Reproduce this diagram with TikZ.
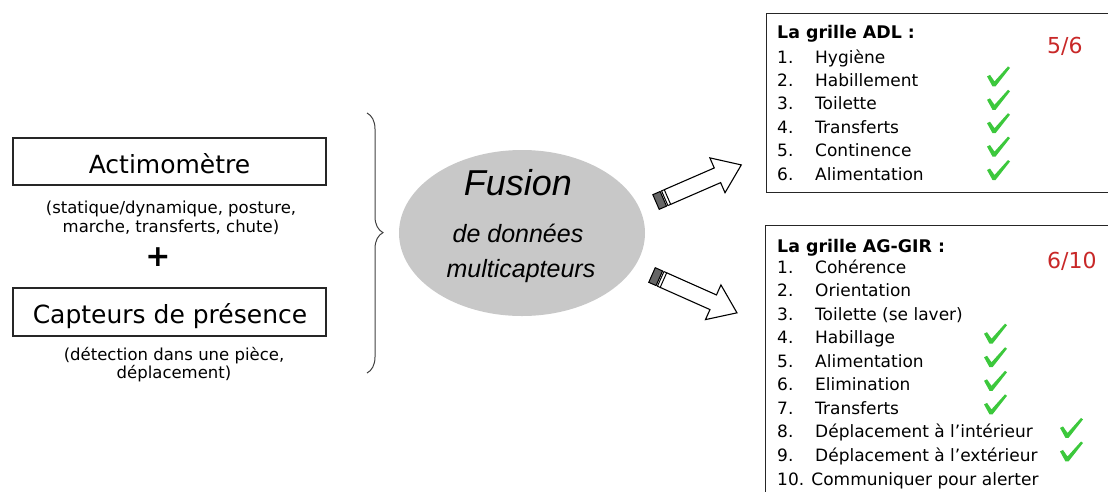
\documentclass[tikz,border=0pt]{standalone}
\usepackage{fontspec}
\setmainfont{DejaVu Sans}
\newfontfamily\fusfont{Liberation Sans}
\usetikzlibrary{decorations.pathreplacing,shapes.geometric}
\definecolor{chkgreen}{RGB}{60,200,60}
\definecolor{scorered}{RGB}{200,40,40}
\definecolor{ellgray}{RGB}{200,200,200}
\tikzset{
  box/.style={draw=black!85, line width=1.2pt, inner sep=0pt},
  big/.style={font=\fontsize{25}{30}\selectfont},
  small/.style={font=\fontsize{16.5}{20}\selectfont, align=center},
  item/.style={font=\fontsize{17}{20}\selectfont, anchor=base west, inner sep=0pt},
  head/.style={font=\fontsize{17.4}{20}\selectfont\bfseries, anchor=base west, inner sep=0pt},
  score/.style={font=\fontsize{22}{24}\selectfont, text=scorered, anchor=base west, inner sep=0pt},
  fus/.style={font=\fusfont\itshape, anchor=base, inner sep=0pt},
  chk/.pic={\fill[chkgreen] (0,-10) -- (3,-11.5) -- (7.5,-5) -- (21,-20) -- (23,-18.5) -- (8.5,0) -- (5.5,0) -- cycle;},
  barrow/.pic={
    \draw[line width=1pt, fill=black!60] (0,-8) rectangle (8,8);
    \draw[line width=1pt] (9.5,-8) rectangle (12.5,8);
    \draw[line width=1.1pt, line join=miter] (12.5,-8) -- (67,-8) -- (67,-19) -- (93,0) -- (67,19) -- (67,8) -- (12.5,8);
  }
}
\begin{document}
\begin{tikzpicture}[x=1pt, y=-1pt]
\useasboundingbox (0,0) rectangle (1108,491);
\clip (0,0) rectangle (1108,491);
% left boxes
\node[box, minimum width=313pt, minimum height=47pt] (acti) at (169.5,161.5) {};
\node[big, anchor=base, inner sep=0pt] (actit) at (169.5,173) {Actimomètre};
\node[small, anchor=base, inner sep=0pt] (actid1) at (171,213) {(statique/dynamique, posture,};
\node[small, anchor=base, inner sep=0pt] (actid2) at (171,232) {marche, transferts, chute)};
\node[font=\fontsize{30}{30}\selectfont\bfseries, inner sep=0pt] (plus) at (158,257) {+};
\node[box, minimum width=313pt, minimum height=48pt] (capt) at (169.5,312) {};
\node[big, anchor=base, inner sep=0pt] (captt) at (170,323) {Capteurs de présence};
\node[small, anchor=base, inner sep=0pt] (captd1) at (174,360) {(détection dans une pièce,};
\node[small, anchor=base, inner sep=0pt] (captd2) at (174,378) {déplacement)};
% brace
\coordinate (btop) at (367,113);
\coordinate (bbot) at (367,373);
\draw[black!75, line width=1pt, decorate, decoration={brace, amplitude=16pt, aspect=0.46}] (btop) -- (bbot);
% ellipse
\node[ellipse, fill=ellgray, minimum width=246pt, minimum height=166pt] (fusion) at (522,233) {};
\node[fus, font=\fusfont\itshape\fontsize{36}{40}\selectfont] (fust) at (518,195) {Fusion};
\node[fus, font=\fusfont\itshape\fontsize{25}{30}\selectfont] (fus2) at (518,242) {de données};
\node[fus, font=\fusfont\itshape\fontsize{25}{30}\selectfont] (fus3) at (521,277) {multicapteurs};
% arrows
\pic[rotate=23.5] at (656,202) {barrow};
\pic[rotate=-24] at (652,275) {barrow};
% ADL box
\node[box, anchor=north west, minimum width=360pt, minimum height=179pt] (adl) at (766,13) {};
\node[head] (adlh) at (777,38) {La grille ADL :};
\node[score] (adls) at (1047,53) {5/6};
\foreach \n/\t [count=\i from 0] in {1/Hygiène, 2/Habillement, 3/Toilette, 4/Transferts, 5/Continence, 6/Alimentation}{
  \node[item] (adln\n) at (777,63+23.4*\i) {\n.};
  \node[item] (adlt\n) at (815,63+23.4*\i) {\t};
}
\foreach \i in {1,...,5}{ \pic at (987,63+23.4*\i) {chk}; }
% AG-GIR box
\node[box, anchor=north west, minimum width=360pt, minimum height=290pt] (ag) at (765,225) {};
\node[head] (agh) at (777,252) {La grille AG-GIR :};
\node[score] (ags) at (1047,268) {6/10};
\foreach \n/\t [count=\i from 0] in {1/Cohérence, 2/Orientation, 3/Toilette (se laver), 4/Habillage, 5/Alimentation, 6/Elimination, 7/Transferts, 8/Déplacement à l’intérieur, 9/Déplacement à l’extérieur}{
  \node[item] (agn\n) at (777,273+23.56*\i) {\n.};
  \node[item] (agt\n) at (815,273+23.56*\i) {\t};
}
\node[item] (agt10) at (777,485) {10. Communiquer pour alerter};
\foreach \i in {3,...,6}{ \pic at (984,273+23.56*\i) {chk}; }
\foreach \i in {7,8}{ \pic at (1060,273+23.56*\i) {chk}; }
\end{tikzpicture}
\end{document}
